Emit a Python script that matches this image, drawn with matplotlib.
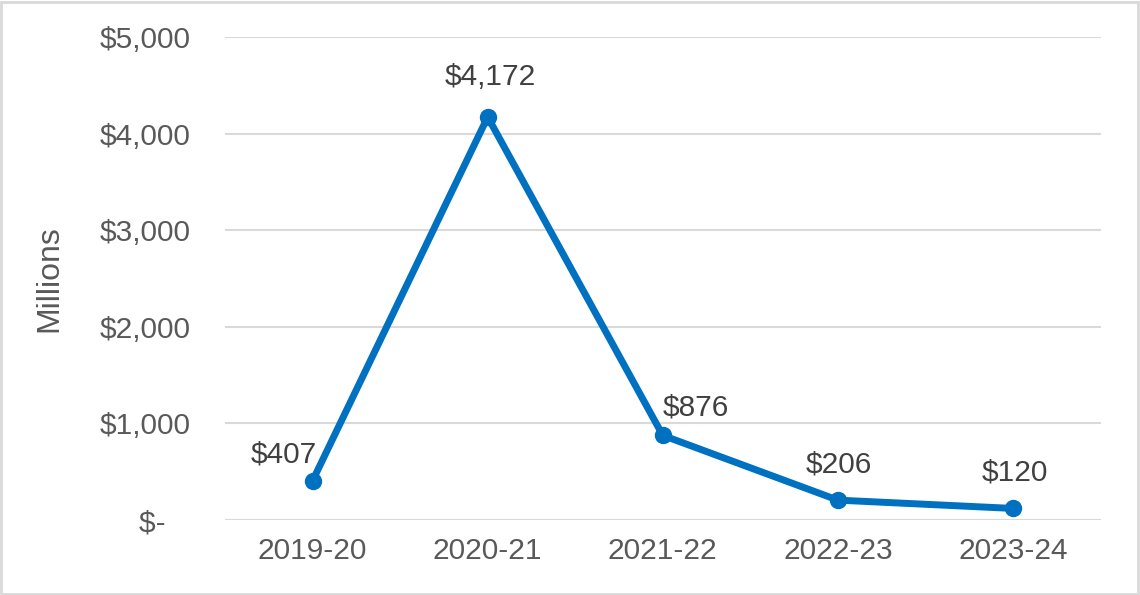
import matplotlib
matplotlib.use("Agg")
from matplotlib import pyplot as plt
from matplotlib.patches import Rectangle

plt.rcParams['font.family'] = ['Liberation Sans', 'DejaVu Sans']

years = ["2019-20", "2020-21", "2021-22", "2022-23", "2023-24"]
values = [407, 4172, 876, 206, 120]
y_ticks = [0, 1000, 2000, 3000, 4000, 5000]
y_tick_labels = ["$-   ", "$1,000", "$2,000", "$3,000", "$4,000", "$5,000"]

# label offsets in points (dx, dy) for each data label
label_offsets = [(-21, 19), (2, 29), (24, 20), (1, 26), (1, 26)]

fig = plt.figure(figsize=(11.4, 5.95), dpi=100)
ax = fig.add_axes([0.1974, 0.126, 0.768, 0.8118])

x = range(len(years))
ax.plot(x, values, color='#0070C0', linewidth=5, marker='o', markersize=11.5,
        solid_capstyle='round', zorder=3)

for i, v in enumerate(values):
    dx, dy = label_offsets[i]
    ax.annotate("${:,}".format(v), (i, v), xytext=(dx, dy), textcoords='offset points',
                ha='center', va='center', fontsize=21.5, color='#404040')

ax.set_xlim(-0.5, len(years) - 0.5)
ax.set_ylim(0, 5000)
ax.set_xticks(list(x))
ax.set_xticklabels(years)
ax.set_yticks(y_ticks)
ax.set_yticklabels(y_tick_labels)
ax.tick_params(axis='both', length=0, labelsize=21.5, labelcolor='#595959')
ax.tick_params(axis='y', pad=25)
ax.tick_params(axis='x', pad=12)
ax.grid(axis='y', color='#D9D9D9', linewidth=1.5)
ax.set_axisbelow(True)
for s in ax.spines.values():
    s.set_visible(False)
ax.set_ylabel("Millions", fontsize=23, color='#595959', labelpad=25)

fig.patches.append(Rectangle((0.001, 0.002), 0.997, 0.995, transform=fig.transFigure,
                             fill=False, edgecolor='#D9D9D9', linewidth=2))

plt.savefig("out.png", dpi=100)
